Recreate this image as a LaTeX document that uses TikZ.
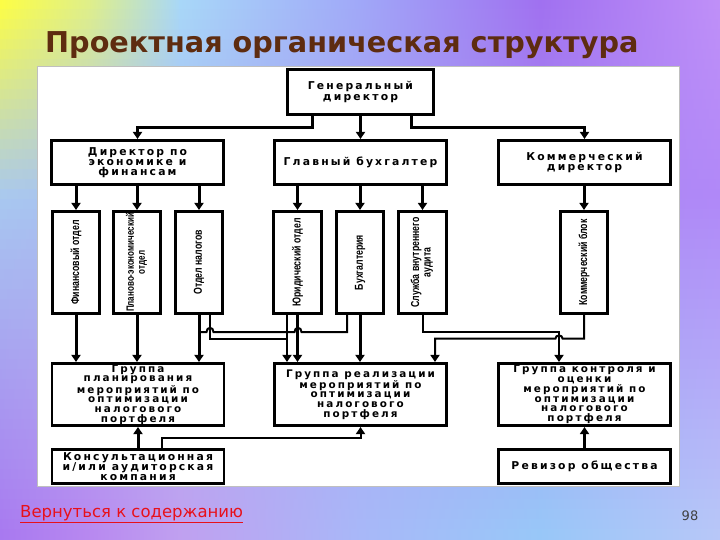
\documentclass[tikz,border=0pt]{standalone}
\usepackage{fontspec}
\setmainfont{Liberation Sans}
\newfontfamily\boxfont[LetterSpace=20]{DejaVu Sans}
\newfontfamily\vfont[FakeStretch=0.76]{Liberation Sans}
\newfontfamily\titlefont{DejaVu Sans}
\newfontfamily\linkfont{DejaVu Sans}
\usetikzlibrary{arrows.meta,calc}
\definecolor{T0}{HTML}{FFFF40}\definecolor{T1}{HTML}{E0F088}\definecolor{T2}{HTML}{A8D8F8}
\definecolor{T3}{HTML}{A0A8F8}\definecolor{T4}{HTML}{A070F0}\definecolor{T5}{HTML}{C090F8}
\definecolor{M0}{HTML}{A8C8F0}\definecolor{M1}{HTML}{A8C0F0}\definecolor{M2}{HTML}{A8B8F0}
\definecolor{M3}{HTML}{A8A0F0}\definecolor{M4}{HTML}{A888F0}\definecolor{M5}{HTML}{B088F8}
\definecolor{B0}{HTML}{A878F0}\definecolor{B1}{HTML}{B888F0}\definecolor{B2}{HTML}{C0A0F0}
\definecolor{B3}{HTML}{A8B8F8}\definecolor{B4}{HTML}{98C8F8}\definecolor{B5}{HTML}{B8C8F8}
\definecolor{titlebrown}{HTML}{5E2C10}
\definecolor{linkred}{HTML}{E8101A}
\definecolor{pagegray}{HTML}{404040}
\tikzset{
  box/.style={draw, line width=2.6pt, fill=white, inner sep=0pt, align=center,
    font=\boxfont\bfseries\fontsize{10.8}{10.3}\selectfont},
  hbox/.style={box, minimum width=172pt, minimum height=44.5pt},
  vbox/.style={box, minimum width=47.5pt, minimum height=102.5pt, font=\vfont\bfseries\fontsize{11.5}{11.5}\selectfont},
  gbox/.style={box, minimum width=172pt, minimum height=62.5pt, font=\boxfont\bfseries\fontsize{10.4}{9.7}\selectfont},
  sbox/.style={box, minimum width=172pt, minimum height=34.5pt},
  thickl/.style={line width=3pt},
  thinl/.style={line width=2pt},
  arr/.style={-{Triangle[width=9pt,length=7pt]}},
}
\begin{document}
\begin{tikzpicture}[x=1pt,y=-1pt]
\useasboundingbox (0,0) rectangle (720,540);
% background
\foreach \i in {0,...,53}{
  \pgfmathsetmacro{\yy}{\i*10}
  \ifnum\i<20
    \pgfmathtruncatemacro{\p}{100-(\i*10+5)/2}
    \def\A{T}\def\B{M}
  \else
    \pgfmathtruncatemacro{\p}{(540-(\i*10+5))/3.4}
    \def\A{M}\def\B{B}
  \fi
  \foreach \j/\xa/\xb [count=\k from 1] in {0/0/90,1/90/180,2/180/360,3/360/540,4/540/720}{
    \shade[left color=\A\j!\p!\B\j, right color=\A\k!\p!\B\k] (\xa-0.3,\yy-0.3) rectangle (\xb+0.3,\yy+10.3);
  }
}
% panel
\fill[white, draw=gray!50, line width=0.6pt] (37,66) rectangle (679,486);
% title
\node[anchor=base west, inner sep=0pt, font=\titlefont\bfseries\fontsize{28.7}{32}\selectfont, text=titlebrown] (title) at (45,53)
  {Проектная органическая структура};
% boxes
\node[box, minimum width=146.5pt, minimum height=45.5pt] (gd) at (360.5,92) {Генеральный\\директор};
\node[hbox] (ecdir) at (137.5,162.5) {Директор по\\экономике и\\финансам};
\node[hbox] (glbuh) at (360.5,162.5) {Главный бухгалтер};
\node[hbox] (komdir) at (584.5,162.5) {Коммерческий\\директор};
\node[vbox] (fin) at (76,262.5) {\rotatebox{90}{Финансовый отдел}};
\node[vbox, font=\vfont\bfseries\fontsize{10.6}{11}\selectfont] (plan) at (137,262.5) {\rotatebox{90}{\begin{tabular}{@{}c@{}}Планово-экономический\\отдел\end{tabular}}};
\node[vbox] (nal) at (199,262.5) {\rotatebox{90}{Отдел налогов}};
\node[vbox] (jur) at (297.5,262.5) {\rotatebox{90}{Юридический отдел}};
\node[vbox] (buhg) at (360,262.5) {\rotatebox{90}{Бухгалтерия}};
\node[vbox] (aud) at (422.5,262.5) {\rotatebox{90}{\begin{tabular}{@{}c@{}}Служба внутреннего\\аудита\end{tabular}}};
\node[vbox] (komb) at (584,262.5) {\rotatebox{90}{Коммерческий блок}};
\node[gbox] (grplan) at (138,394.5) {Группа\\планирования\\мероприятий по\\оптимизации\\налогового\\портфеля};
\node[gbox] (grreal) at (360.5,394.5) {Группа реализации\\мероприятий по\\оптимизации\\налогового\\портфеля};
\node[gbox] (grkontr) at (584.5,394.5) {Группа контроля и\\оценки\\мероприятий по\\оптимизации\\налогового\\портфеля};
\node[sbox] (kons) at (138,466.5) {Консультационная\\и/или аудиторская\\компания};
\node[sbox] (reviz) at (584.5,466.5) {Ревизор общества};
% top connectors
\draw[thickl,arr] ([xshift=-48.5pt]gd.south) -- ++(0,11.5) -| (ecdir.north);
\draw[thickl,arr] (gd.south) -- (glbuh.north);
\draw[thickl,arr] ([xshift=50.5pt]gd.south) -- ++(0,11.5) -| (komdir.north);
\foreach \n in {fin,plan,nal}{\draw[thickl,arr] (ecdir.south -| \n.north) -- (\n.north);}
\foreach \n in {jur,buhg,aud}{\draw[thickl,arr] (glbuh.south -| \n.north) -- (\n.north);}
\draw[thickl,arr] (komdir.south -| komb.north) -- (komb.north);
% middle connectors
\draw[thickl,arr] (fin.south) -- (fin.south |- grplan.north);
\draw[thickl,arr] (plan.south) -- (plan.south |- grplan.north);
\draw[thickl,arr] (nal.south) -- (nal.south |- grplan.north);
\draw[thinl] ([xshift=11pt]nal.south) -- (210,339) -- (287,339);
\draw[thinl,arr] ([xshift=-10.5pt]jur.south) -- ([xshift=-73.5pt]grreal.north);
\draw[thickl,arr] (jur.south) -- ([xshift=-63pt]grreal.north);
\draw[thickl,arr] (buhg.south) -- ([xshift=-0.5pt]grreal.north);
\draw[thinl] ([xshift=-13pt]buhg.south) -- (347,332) -- (301.5,332)
  .. controls (301.5,326.5) and (294.5,326.5) .. (294.5,332) -- (213.5,332)
  .. controls (213.5,326.5) and (206.5,326.5) .. (206.5,332) -- (199,332);
\draw[thinl,arr] (aud.south) -- (422.5,332) -- (559,332) -- ([xshift=-25.5pt]grkontr.north);
\draw[thinl,arr] (komb.south) -- (584,338.5) -- (562.5,338.5)
  .. controls (562.5,334.5) and (555.5,334.5) .. (555.5,338.5) -- (435,338.5) -- ([xshift=74.5pt]grreal.north);
% bottom connectors
\draw[thickl,arr] (kons.north -| grplan.south) -- (grplan.south);
\draw[thinl,arr] ([xshift=24pt]kons.north) -- (162,438) -- (360.5,438) -- (grreal.south);
\draw[thickl,arr] (reviz.north) -- (grkontr.south);
% footer
\node[anchor=base west, inner sep=0pt, font=\linkfont\fontsize{16.5}{19}\selectfont, text=linkred] (back) at (20,517) {\underline{Вернуться к содержанию}};
\node[anchor=base, inner sep=0pt, font=\linkfont\fontsize{13}{15}\selectfont, text=pagegray] (pagenum) at (690,520) {98};
\end{tikzpicture}
\end{document}
